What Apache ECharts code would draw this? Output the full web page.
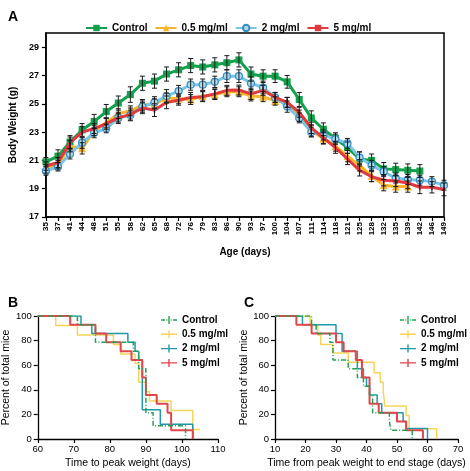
<!DOCTYPE html>
<html><head><meta charset="utf-8">
<script src="https://cdn.jsdelivr.net/npm/echarts@6/dist/echarts.min.js"></script>
<style>
html,body{margin:0;padding:0;background:#fff;}
.c{position:absolute;left:0;top:0;width:470px;height:471px;}
</style></head><body>
<div id="a" class="c"></div><div id="b" class="c"></div><div id="c" class="c"></div>
<script>
// ---------- Panel A data ----------
const ages = [35,37,41,44,48,51,55,58,62,65,68,72,76,79,83,86,90,93,97,100,104,107,111,114,118,121,125,128,132,135,139,142,146,149];
const seriesNames = ['Control','0.5 mg/ml','2 mg/ml','5 mg/ml'];
const ctrlW = [20.9,21.3,22.3,23.15,23.75,24.45,25.05,25.65,26.45,26.6,27.1,27.4,27.7,27.6,27.75,27.9,28.1,27.1,26.95,26.95,26.55,25.3,24.0,23.2,22.55,21.9,21.1,21.0,20.4,20.35,20.3,20.25,null,null];
const lowW  = [20.4,20.7,22.0,21.85,23.1,23.65,24.3,24.5,24.9,25.0,25.4,25.35,25.3,25.55,25.65,25.85,25.85,25.55,25.5,25.2,25.1,24.15,23.1,22.55,22.0,21.3,20.65,19.9,19.25,19.15,19.15,null,null,null];
const midW  = [20.25,20.55,21.45,22.25,22.95,23.25,24.0,24.2,24.8,25.1,25.55,25.9,26.35,26.35,26.55,26.95,26.95,26.45,26.15,25.45,24.8,24.0,23.0,22.8,22.5,22.2,21.2,20.65,20.2,19.75,19.65,19.6,19.5,19.25];
const hiW   = [20.6,20.85,22.25,23.0,23.25,23.6,24.0,24.25,24.7,24.55,25.1,25.25,25.45,25.5,25.7,25.95,25.97,25.7,25.95,25.45,25.1,24.4,23.3,22.6,21.9,21.1,20.3,19.85,19.6,19.55,19.4,19.1,19.1,18.95];
const ctrlE = [0.3,0.45,0.45,0.45,0.5,0.5,0.5,0.55,0.5,0.5,0.5,0.5,0.5,0.5,0.5,0.5,0.5,0.5,0.45,0.45,0.45,0.5,0.5,0.45,0.4,0.4,0.5,0.45,0.45,0.45,0.45,0.45,null,null];
const lowE  = [0.3,0.3,0.4,0.4,0.35,0.35,0.35,0.35,0.4,0.35,0.35,0.35,0.35,0.35,0.35,0.35,0.35,0.35,0.35,0.3,0.35,0.4,0.4,0.4,0.35,0.4,0.4,0.4,0.4,0.4,0.4,null,null,null];
const midE  = [0.3,0.3,0.35,0.4,0.35,0.3,0.3,0.35,0.4,0.4,0.45,0.4,0.4,0.4,0.4,0.45,0.45,0.45,0.45,0.35,0.4,0.35,0.35,0.35,0.35,0.35,0.4,0.35,0.35,0.35,0.35,0.35,0.35,0.35];
const hiE   = [0.3,0.35,0.4,0.4,0.35,0.4,0.4,0.45,0.4,0.45,0.45,0.35,0.35,0.35,0.35,0.35,0.35,0.4,0.35,0.35,0.35,0.35,0.4,0.4,0.4,0.4,0.4,0.35,0.4,0.4,0.4,0.45,0.4,0.45];
const yTicksA = [17,19,21,23,25,27,29];

// ---------- Panel B data (time to peak weight, Kaplan-Meier) ----------
const bCtrlT = [60,71,76,86.5,88,90,92,101];
const bCtrlS = [100,92.9,78.6,71.4,57.1,21.4,10.7,0];
const bLowT  = [60,65,71,81,83,87,88,90,91,97,103,105];
const bLowS  = [100,92.3,84.6,76.9,69.2,61.5,46.2,38.5,30.8,23.1,7.7,7.7];
const bMidT  = [60,72,75,85,87,88,89,94,103];
const bMidS  = [100,92.9,85.7,78.6,71.4,64.3,23.8,11.9,0];
const bHiT   = [60,69,76,79,83,86,89,90,93,96,97,103];
const bHiS   = [100,92.9,85.7,78.6,71.4,64.3,50,35.7,28.6,21.4,7.1,0];

// ---------- Panel C data (peak weight to end stage) ----------
const cCtrlT = [10,22,23.5,28,29,34,37,39,41,42,47.5,48,55];
const cCtrlS = [100,92.9,85.7,78.6,64.3,57.1,50,42.9,35.7,21.4,14.3,7.1,0];
const cLowT  = [10,21.5,24,25,29,34,42.5,44.5,45.5,46,53,54,63];
const cLowS  = [100,92.3,84.6,76.9,70,62.5,53.8,46.2,38.5,26.9,19.2,8.3,0];
const cMidT  = [10,19,30,32,37,39,40,41,43.5,45,52,53,60];
const cMidS  = [100,92.9,85.7,71.4,57.1,50,42.9,35.7,28.6,21.4,14.3,8.6,0];
const cHiT   = [10,17,22,30,32.5,36.5,38.5,41,44,50,53,58.5];
const cHiS   = [100,92.9,85.7,78.6,71.4,64.3,50,28.6,21.4,14.3,7.1,0];

const FONT = 'Liberation Sans, Arial, sans-serif';
const colA = ['#13a04c','#f6b52c','#7cc6e4','#e0393e'];
const colK = ['#24a055','#f5d55a','#1f9aa6','#e2454a'];

// ---------- Chart A ----------
function errData(w, e){
  const out=[];
  w.forEach((v,i)=>{ if(v!=null && e[i]!=null) out.push([i,v,e[i]]); });
  return out;
}
function errRender(params, api){
  const i=api.value(0), m=api.value(1), e=api.value(2);
  const t=api.coord([i,m+e]), b=api.coord([i,m-e]);
  const w=2.5, st={stroke:'#1a1a1a', lineWidth:1};
  return {type:'group', children:[
    {type:'line', shape:{x1:t[0],y1:t[1],x2:b[0],y2:b[1]}, style:st},
    {type:'line', shape:{x1:t[0]-w,y1:t[1],x2:t[0]+w,y2:t[1]}, style:st},
    {type:'line', shape:{x1:b[0]-w,y1:b[1],x2:b[0]+w,y2:b[1]}, style:st}
  ]};
}
const weights=[ctrlW,lowW,midW,hiW], errs=[ctrlE,lowE,midE,hiE];
const symA=['rect','triangle','circle','path://M0,0h1v6h-1z'];
const symSizeA=[7,8,7,[1.5,6]];
const seriesA=[];
seriesNames.forEach((n,k)=>{
  seriesA.push({name:n, type:'line', data:weights[k], symbol:symA[k], symbolSize:symSizeA[k],
    lineStyle:{color:colA[k], width:3}, z:2+k,
    itemStyle: k===2 ? {color:'#a9dcf0', borderColor:'#3a8cc2', borderWidth:1.2} : {color:colA[k]},
    emphasis:{disabled:true}});
  seriesA.push({name:'err'+k, type:'custom', data:errData(weights[k],errs[k]), renderItem:errRender,
    encode:{x:0,y:1}, z:10, silent:true});
});
const chA=echarts.init(document.getElementById('a'),null,{renderer:'canvas'});
chA.setOption({
  animation:false,
  textStyle:{fontFamily:FONT},
  title:{text:'A', left:3, top:5, textStyle:{fontSize:14, fontWeight:'bold', color:'#000', fontFamily:FONT}},
  legend:{data:seriesNames, left:80, top:18, itemWidth:21, itemHeight:8, itemGap:7,
    textStyle:{fontSize:10, fontWeight:'bold', color:'#000', fontFamily:FONT}},
  grid:{left:38, right:26, top:33, bottom:254, show:true, borderColor:'#000', borderWidth:1.5},
  xAxis:{type:'category', data:ages.map(String), boundaryGap:false,
    axisLine:{lineStyle:{color:'#000', width:1.5}},
    axisTick:{length:4, interval:0, lineStyle:{color:'#000', width:1.2}},
    axisLabel:{rotate:90, interval:0, fontSize:8, fontWeight:'bold', color:'#000', margin:5, fontFamily:FONT},
    name:'Age (days)', nameLocation:'middle', nameGap:30,
    nameTextStyle:{fontSize:10, fontWeight:'bold', color:'#000', fontFamily:FONT}},
  yAxis:{type:'value', min:17, max:30,
    axisLine:{show:true, lineStyle:{color:'#000', width:1.5}},
    axisTick:{show:true, length:4, customValues:yTicksA, lineStyle:{color:'#000', width:1.2}},
    axisLabel:{customValues:yTicksA, fontSize:9, fontWeight:'bold', color:'#000', margin:7, fontFamily:FONT},
    splitLine:{show:false},
    name:'Body Weight (g)', nameLocation:'middle', nameGap:25,
    nameTextStyle:{fontSize:10, fontWeight:'bold', color:'#000', fontFamily:FONT}},
  series:seriesA
});

// ---------- KM charts ----------
const solidIcon='path://M0,4.3h16v1.4h-16z M7.3,1h1.4v8h-1.4z';
const dashIcon='path://M0,4.3h4v1.4h-4z M5.3,4.3h1v1.4h-1z M7.3,1h1.4v8h-1.4z M9.7,4.3h1v1.4h-1z M12,4.3h4v1.4h-4z';
function kmSeries(Ts, Ss, k){
  return {name:seriesNames[k], type:'line', step:'end', symbol:'none',
    data:Ts.map((t,j)=>[t,Ss[j]]),
    lineStyle:{color:colK[k], width:k===3?2:1.5, type:k===0?[5,2,1,2]:'solid'},
    itemStyle:{color:colK[k]}, z:k===3?5:(k===2?4:(k===0?6:3)), emphasis:{disabled:true}};
}
function kmOption(letter, letterLeft, gridLeft, gridRight, xmin, xmax, xname, legLeft, ser){
  return {
    animation:false,
    textStyle:{fontFamily:FONT},
    title:{text:letter, left:letterLeft, top:291, textStyle:{fontSize:14, fontWeight:'bold', color:'#000', fontFamily:FONT}},
    legend:{data:seriesNames.map((n,k)=>({name:n, icon:k===0?dashIcon:solidIcon})),
      orient:'vertical', left:legLeft, top:310, itemWidth:16, itemHeight:9, itemGap:4.3,
      textStyle:{fontSize:10, fontWeight:'bold', color:'#000', fontFamily:FONT}},
    grid:{left:gridLeft, right:gridRight, top:316, bottom:32},
    xAxis:{type:'value', min:xmin, max:xmax, interval:10,
      axisLine:{lineStyle:{color:'#000', width:1.3}},
      axisTick:{length:4, lineStyle:{color:'#000', width:1.2}},
      axisLabel:{fontSize:9.5, color:'#000', margin:5, fontFamily:FONT},
      splitLine:{show:false},
      name:xname, nameLocation:'middle', nameGap:19,
      nameTextStyle:{fontSize:10.5, color:'#000', fontFamily:FONT}},
    yAxis:{type:'value', min:0, max:100, interval:20,
      axisLine:{show:true, lineStyle:{color:'#000', width:1.3}},
      axisTick:{show:true, length:4, lineStyle:{color:'#000', width:1.2}},
      axisLabel:{fontSize:9.5, color:'#000', margin:6, fontFamily:FONT},
      splitLine:{show:false},
      name:'Percent of total mice', nameLocation:'middle', nameGap:23,
      nameTextStyle:{fontSize:10.5, color:'#000', fontFamily:FONT}},
    series:ser
  };
}
const chB=echarts.init(document.getElementById('b'));
chB.setOption(kmOption('B',3,37,252,60,110,'Time to peak weight (days)',156,
  [kmSeries(bCtrlT,bCtrlS,0),kmSeries(bLowT,bLowS,1),kmSeries(bMidT,bMidS,2),kmSeries(bHiT,bHiS,3)]));
const chC=echarts.init(document.getElementById('c'));
chC.setOption(kmOption('C',239,275,12,10,70,'Time from peak weight to end stage (days)',395,
  [kmSeries(cCtrlT,cCtrlS,0),kmSeries(cLowT,cLowS,1),kmSeries(cMidT,cMidS,2),kmSeries(cHiT,cHiS,3)]));
</script>
</body></html>
